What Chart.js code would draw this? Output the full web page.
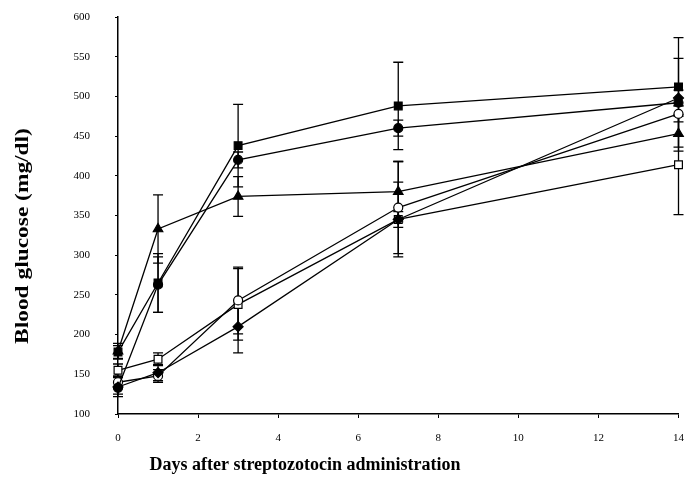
<!DOCTYPE html>
<html>
<head>
<meta charset="utf-8">
<script src="https://cdn.jsdelivr.net/npm/chart.js@4"></script>
<style>
  body { margin: 0; background: #fff; }
  #wrap { width: 698px; height: 480px; }
</style>
</head>
<body>
<div id="wrap"><canvas id="glucose"></canvas></div>
<script>
const days = [0, 1, 3, 7, 14];

// mean values (mg/dl)
const filledSquare = [178, 265, 438, 488, 512];
const filledCircle = [133, 263, 420, 460, 492];
const filledTriangle = [179, 333, 374, 380, 453];
const filledDiamond = [134, 152, 210, 345, 498];
const openCircle = [140, 148, 243, 360, 478];
const openSquare = [155, 169, 238, 345, 414];

// error bars (+/-)
const errSquare = [8, 37, 52, 55, 62];
const errCircle = [8, 35, 10, 10, 56];
const errTriangle = [10, 43, 25, 38, 22];
const errDiamond = [12, 10, 33, 10, 10];
const errOpenCircle = [8, 8, 42, 58, 10];
const errOpenSquare = [8, 8, 45, 47, 63];

const yTicks = [100, 150, 200, 250, 300, 350, 400, 450, 500, 550, 600];
const xTicks = [0, 2, 4, 6, 8, 10, 12, 14];

const pts = vals => days.map((d, i) => ({x: d, y: vals[i]}));

function series(vals, err, style, r, open) {
  return {
    data: pts(vals),
    err: err,
    borderColor: '#000',
    borderWidth: 1.3,
    pointStyle: style,
    pointRadius: r,
    pointBorderWidth: 1.2,
    pointBorderColor: '#000',
    pointBackgroundColor: open ? '#fff' : '#000',
    tension: 0,
    clip: false
  };
}

const errorBars = {
  id: 'errorBars',
  beforeDatasetsDraw(chart) {
    const ctx = chart.ctx;
    const x = chart.scales.x, y = chart.scales.y;
    ctx.save();
    ctx.strokeStyle = '#000';
    ctx.lineWidth = 1.3;
    chart.data.datasets.forEach(ds => {
      ds.data.forEach((p, i) => {
        const e = ds.err[i];
        const px = x.getPixelForValue(p.x);
        const top = y.getPixelForValue(p.y + e);
        const bot = y.getPixelForValue(p.y - e);
        ctx.beginPath();
        ctx.moveTo(px, top); ctx.lineTo(px, bot);
        ctx.moveTo(px - 5, top); ctx.lineTo(px + 5, top);
        ctx.moveTo(px - 5, bot); ctx.lineTo(px + 5, bot);
        ctx.stroke();
      });
    });
    ctx.restore();
  }
};

const axisTitles = {
  id: 'axisTitles',
  afterDraw(chart) {
    const ctx = chart.ctx;
    ctx.save();
    ctx.fillStyle = '#000';
    ctx.font = 'bold 18px "Liberation Serif"';
    ctx.textAlign = 'center';
    ctx.textBaseline = 'middle';
    ctx.fillText('Days after streptozotocin administration', 305, 465);
    ctx.translate(23, 236);
    ctx.rotate(-Math.PI / 2);
    ctx.scale(1.3, 1.05);
    ctx.fillText('Blood glucose (mg/dl)', 0, 0);
    ctx.restore();
  }
};

const ctx = document.getElementById('glucose');
new Chart(ctx, {
  type: 'line',
  data: {
    datasets: [
      series(filledSquare, errSquare, 'rect', 5.5, false),
      series(filledCircle, errCircle, 'circle', 4.5, false),
      series(filledTriangle, errTriangle, 'triangle', 5.5, false),
      series(filledDiamond, errDiamond, 'rectRot', 5, false),
      series(openCircle, errOpenCircle, 'circle', 4.5, true),
      series(openSquare, errOpenSquare, 'rect', 5.5, true)
    ]
  },
  options: {
    responsive: true,
    maintainAspectRatio: false,
    animation: false,
    layout: { padding: { top: 17, right: 18, left: 0, bottom: 0 } },
    plugins: {
      legend: { display: false },
      tooltip: { enabled: false }
    },
    scales: {
      x: {
        type: 'linear',
        min: 0,
        max: 14,
        afterBuildTicks: s => { s.ticks = xTicks.map(v => ({value: v})); },
        afterFit: s => { s.height = 66; },
        grid: { drawOnChartArea: false, drawTicks: true, tickLength: 4, color: '#000' },
        border: { color: '#000', width: 1.5 },
        ticks: {
          color: '#000',
          padding: 14,
          maxRotation: 0,
          font: { family: '"Liberation Serif"', size: 11 }
        }
      },
      y: {
        min: 100,
        max: 600,
        afterBuildTicks: s => { s.ticks = yTicks.map(v => ({value: v})); },
        afterFit: s => { s.width = 118; s.paddingTop = 7; s.paddingBottom = 7; },
        grid: { drawOnChartArea: false, drawTicks: true, tickLength: 3, color: '#000' },
        border: { color: '#000', width: 1.5 },
        ticks: {
          color: '#000',
          padding: 25,
          font: { family: '"Liberation Serif"', size: 11 }
        }
      }
    }
  },
  plugins: [errorBars, axisTitles]
});
</script>
</body>
</html>
